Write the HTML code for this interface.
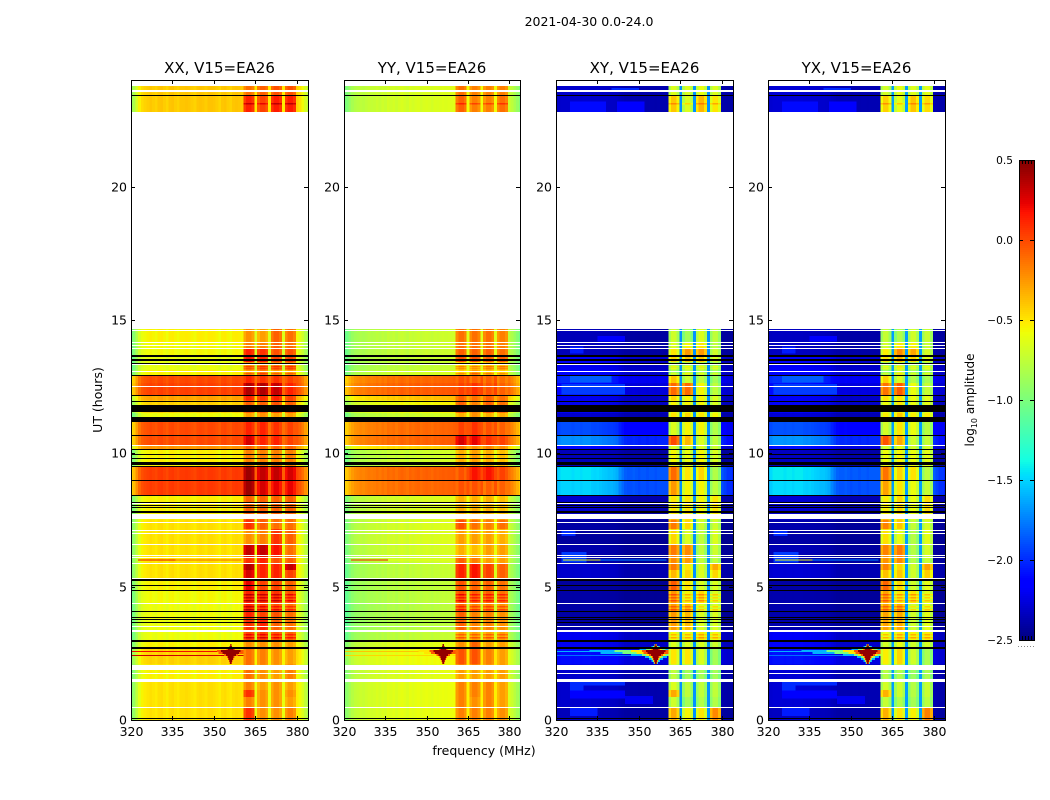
<!DOCTYPE html>
<html lang="en">
<head>
<meta charset="utf-8">
<title>2021-04-30 0.0-24.0</title>
<style>
html,body{margin:0;padding:0;background:#fff;}
svg{display:block;font-family:"DejaVu Sans","Liberation Sans",sans-serif;fill:#000;}
</style>
</head>
<body>
<svg id="figure" xmlns="http://www.w3.org/2000/svg" width="1050" height="800" viewBox="0 0 1050 800">
<rect x="0" y="0" width="1050" height="800" fill="#fff"/>
<text x="589" y="26" text-anchor="middle" font-size="12.5">2021-04-30 0.0-24.0</text>
<text x="484" y="755" text-anchor="middle" font-size="12.5">frequency (MHz)</text>
<text transform="translate(102,400) rotate(-90)" text-anchor="middle" font-size="12.5">UT (hours)</text>
<text transform="translate(974,400) rotate(-90)" text-anchor="middle" font-size="12">log<tspan font-size="8" dy="3">10</tspan><tspan dy="-3"> amplitude</tspan></text>
<g id="panels"></g>
<g id="colorbar"></g>
</svg>
<script>
// ---------- axis values ----------
const xTickValues = [320, 335, 350, 365, 380];
const yTickValues = [0, 5, 10, 15, 20];
const colorbarTicks = [0.5, 0.0, -0.5, -1.0, -1.5, -2.0, -2.5];
const panelTitles = ["XX, V15=EA26", "YY, V15=EA26", "XY, V15=EA26", "YX, V15=EA26"];

// ---------- time bands: top edge of each band, UT hours ----------
const bandTopUT = [23.78,23.44,14.66,14.18,13.95,13.69,13.43,13.13,12.94,12.64,12.17,11.98,11.81,11.52,11.36,11.19,10.65,10.28,10.14,9.69,9.49,8.98,8.42,7.74,7.52,7.16,6.60,6.13,5.87,5.62,5.29,4.88,4.35,3.86,3.34,2.94,2.66,2.08,1.88,1.43,1.13,0.86,0.47];

// ---------- log10 amplitude per band: [low band, block 1, block 2, block 3, block 4] ----------
const xxLevels = [
[-.42,-.15,-.1,-.05,-.05],[-.42,.1,0,.12,.12],[-.55,-.25,-.3,-.1,-.15],[-.58,-.2,-.2,-.1,-.15],[-.58,.1,.05,-.05,-.05],
[-.62,.15,.1,0,0],[-.62,-.25,-.2,-.2,-.2],[-.55,-.3,-.2,-.3,-.3],[-.02,.1,.05,.05,0],[.01,.35,.35,.3,.1],
[-.3,.1,.05,.1,0],[-.45,-.1,-.1,-.05,-.1],[-.45,-.1,-.1,-.05,-.1],[-.6,-.3,-.25,-.3,-.3],[-.6,-.3,-.25,-.3,-.3],
[-.02,.1,.1,.05,0],[-.02,.25,.1,.1,0],[-.25,-.1,-.1,-.1,-.1],[-.55,-.2,-.2,-.2,-.2],[-.55,-.2,-.2,-.2,-.2],
[.03,.4,.3,.3,.25],[.03,.4,.25,.2,.2],[-.55,-.1,-.1,-.1,-.1],[-.55,-.1,-.1,-.1,-.1],[-.5,.05,-.1,-.15,-.15],
[-.5,-.25,-.2,.05,-.1],[-.5,.3,.3,.15,-.15],[-.5,.05,.1,-.05,-.1],[-.5,.35,.1,.1,.3],[-.5,.25,.1,.1,0],
[-.55,.2,0,0,-.1],[-.58,.1,.05,.05,-.05],[-.6,.1,0,-.05,-.15],[-.6,.05,.1,-.1,-.15],[-.6,0,0,-.05,-.1],
[-.55,-.25,-.25,-.25,-.3],[-.45,-.15,-.2,-.25,-.3],[-.55,-.15,-.25,-.3,-.2],[-.55,-.15,-.25,-.3,-.2],[-.5,-.2,-.3,-.25,-.3],
[-.5,.05,-.25,-.25,-.25],[-.5,-.2,-.25,-.25,-.3],[-.5,.05,-.25,-.25,-.2]
];
const yyLevels = [
[-.68,-.15,-.2,-.2,-.2],[-.68,-.1,-.2,-.2,-.15],[-.74,-.15,-.15,-.15,-.2],[-.74,-.15,-.15,-.15,-.2],[-.74,-.1,-.1,-.1,-.15],
[-.74,-.05,-.05,-.1,-.1],[-.76,-.45,-.45,-.4,-.4],[-.7,-.45,-.3,-.4,-.45],[-.12,-.05,-.1,-.1,-.15],[-.08,0,.05,-.05,-.1],
[-.4,-.1,-.15,-.1,-.15],[-.58,-.1,-.2,-.1,-.15],[-.58,-.1,-.2,-.1,-.15],[-.72,-.35,-.25,-.35,-.35],[-.72,-.35,-.25,-.35,-.35],
[-.12,0,.05,-.05,-.1],[-.1,.25,.2,.05,0],[-.45,-.2,-.25,-.2,-.25],[-.72,-.35,-.3,-.35,-.4],[-.72,-.35,-.3,-.35,-.4],
[-.1,-.05,.15,.15,0],[-.12,-.05,-.05,-.1,-.1],[-.68,-.35,-.35,-.35,-.4],[-.68,-.35,-.35,-.35,-.4],[-.68,-.05,-.15,-.2,-.15],
[-.68,-.3,-.3,-.3,-.35],[-.7,-.35,-.4,-.3,-.3],[-.72,-.1,-.2,-.3,-.3],[-.76,.1,.15,0,-.1],[-.76,.1,.15,0,-.1],
[-.78,-.05,-.1,-.1,-.15],[-.78,-.05,-.1,-.1,-.15],[-.8,-.1,-.2,-.2,-.25],[-.8,-.1,-.2,-.2,-.25],[-.76,-.3,-.3,-.3,-.3],
[-.65,-.25,-.1,-.3,-.3],[-.6,-.05,-.05,-.2,-.3],[-.65,-.3,-.3,-.3,-.3],[-.65,-.3,-.3,-.3,-.3],[-.63,-.2,-.2,-.2,-.3],
[-.63,-.2,-.2,-.2,-.3],[-.63,-.2,-.25,-.2,-.3],[-.63,-.2,-.2,-.2,-.25]
];
const xyLevels = [
[-2.3,-.7,-.7,-.65,-.7],[-2.3,-.45,-.7,-.4,-.55],[-2.35,-.75,-.9,-.7,-.8],[-2.35,-.7,-.6,-.55,-.8],[-2.35,-.55,-.3,-.3,-.75],
[-2.15,-.5,-.45,-.45,-.7],[-2.2,-.85,-.85,-.85,-.9],[-2.15,-.9,-.8,-.85,-.9],[-2,-.45,-.75,-.8,-.9],[-2.1,-.15,-.15,-.6,-.8],
[-2.2,-.5,-.6,-.6,-.7],[-2.2,-.6,-.6,-.6,-.7],[-2.2,-.6,-.6,-.6,-.7],[-2.3,-.55,-.5,-.55,-.6],[-2.3,-.55,-.5,-.55,-.6],
[-1.9,-.7,-.6,-.6,-.85],[-1.7,-.05,-.4,-.7,-.8],[-2.1,-.7,-.7,-.7,-.75],[-2.35,-.6,-.65,-.6,-.7],[-2.35,-.6,-.65,-.6,-.7],
[-1.45,-.15,-.55,-.5,-.85],[-1.5,-.3,-.6,-.6,-.8],[-2.3,-.55,-.55,-.6,-.55],[-2.3,-.55,-.55,-.6,-.55],[-2.4,-.2,-.5,-.75,-.75],
[-2.42,-.5,-.7,-.8,-.7],[-2.38,-.2,-.25,-.8,-.75],[-2.38,-.25,-.3,-.8,-.8],[-2.3,-.2,-.55,-.7,-.35],[-2.3,-.4,-.5,-.7,-.5],
[-2.42,-.1,-.55,-.7,-.7],[-2.4,-.3,-.6,-.5,-.7],[-2.4,-.3,-.4,-.7,-.7],[-2.4,-.3,-.4,-.7,-.7],[-2.2,-.6,-.6,-.55,-.6],
[-2.2,-.7,-.7,-.7,-.75],[-2.1,-.55,-.55,-.7,-.9],[-2.3,-.8,-.9,-.9,-.9],[-2.3,-.8,-.9,-.9,-.9],[-2.3,-.7,-.8,-.8,-.8],
[-2.3,-.35,-.8,-.8,-.8],[-2.3,-.75,-.9,-.85,-.85],[-2.35,-.35,-.6,-.55,-.25]
];
const yxLevelDelta = [0.02, -0.03, 0.05, -0.04, 0.03];

// ---------- per-channel spectral shape (channels 1 MHz wide, starting at 319.6 MHz) ----------
const xxShape = [-.5,-.4,-.25,-.12,-.05,-.02,0,.02,0,-.02,.02,.03,0,-.03,.02,.03,0,-.02,.02,.02,.03,.02,0,-.02,.02,.03,.02,0,.03,.03,.02,0,-.03,.02,.03,0,-.02,.02,.03,.02,0,0,0,0,0,0,0,0,0,0,0,0,0,0,0,0,0,0,0,0,-.02,-.07,-.15,-.25,-.35];
const yyShape = [-.35,-.3,-.22,-.16,-.12,-.1,-.08,-.09,-.07,-.05,-.06,-.05,-.03,-.05,-.02,-.04,0,-.02,0,-.03,0,.02,0,-.02,.02,0,.02,.03,0,.02,.03,.02,0,.03,.02,.03,.04,.03,.04,.04,.05,0,0,0,0,0,0,0,0,0,0,0,0,0,0,0,0,0,0,0,-.02,-.08,-.15,-.22,-.3];
const crossShape = [.8,.95,1,1,1,1,.98,1,1,.98,1,1,1,.97,.96,.97,.95,.93,.92,.9,.9,.88,.85,.75,.68,.62,.6,.6,.62,.6,.58,.6,.6,.58,.6,.6,.58,.6,.6,.6,.6,0,0,0,0,0,0,0,0,0,0,0,0,0,0,0,0,0,0,0,.6,.55,.5,.5,.45];

// ---------- high-frequency blocks, start MHz ----------
const blockStartMHz = [360.6, 365.6, 370.6, 375.6];
const blockTaper = [-.06, .03, .03, -.04];
const crossBlockTaper = [-.1, .05, .05, -.1];

// ---------- horizontal streaks inside the high-frequency blocks ----------
const stripeUT = [23.14,13.27,13.2,13.01,4.725,4.61,4.5,4.275,4.16,3.225,3.11];
const stripeDelta = [.2,.25,.2,.2,.25,.2,.25,.2,.25,.2,.25];

// ---------- faint patches in the cross-hand low band ----------
const patchTopUT = [23.7,23.2,23.2,14.4,14.0,12.9,12.6,7.1,6.3,1.5,1.4,1.1,0.9,0.45];
const patchBottomUT = [23.55,22.8,22.8,14.2,13.75,12.65,12.2,6.9,5.9,1.3,1.1,0.8,0.6,0.15];
const patchStartMHz = [340,325,342,335,325,325,322,322,322,325,325,325,345,325];
const patchEndMHz = [350,338,352,345,330,340,345,327,331,345,330,345,355,335];
const patchValue = [-2.0,-2.1,-2.15,-2.15,-2.05,-1.85,-1.95,-2.0,-1.95,-2.0,-2.0,-2.15,-2.2,-2.05];

// ---------- narrow RFI lines ----------
const rfiUT = [2.59, 2.44, 6.02, 6.02];
const rfiStartMHz = [320, 320, 322.5, 336];
const rfiEndMHz = [360.6, 360.6, 336, 360];
const rfiXX = [.2, .3, .2, -.1];
const rfiYY = [-.4, -.45, .15, -.6];
const rfiCross = [-1.6, -1.8, -.6, -1.7];

// ---------- RFI burst contours at 356 MHz ----------
const spikeCentreMHz = 356.1;
const spikeContours = [-1.6, -1.0, -.5, -.05, .45];
const spikeUT = [2.85,2.775,2.70,2.625,2.55,2.475,2.40,2.325,2.25,2.175];
const spikeHalfWidths = [
[.5,.4,.3,.3,.2],[1.5,1,.6,.5,.4],[6,3.5,2.2,1.5,1],[24,15,9,5,3.5],[20,12,7,4.5,3],
[9,5,3.5,2.5,1.8],[4,2.5,1.8,1.4,1],[2.5,1.5,1.2,1,.8],[1.5,1,.8,.6,.5],[.8,.6,.5,.4,.3]
];

// ---------- flagged integrations: [top UT, bottom UT] ----------
const blackLines = [[23.44,23.40],[13.69,13.61],[13.54,13.45],[13.39,13.35],[12.94,12.90],[12.17,12.13],[11.98,11.94],[11.81,11.53],[11.36,11.19],[10.69,10.65],[10.16,10.13],[9.99,9.96],[9.84,9.81],[9.69,9.58],[9.53,9.49],[9.00,8.96],[8.44,8.40],[8.19,8.16],[8.08,8.04],[7.99,7.95],[7.84,7.78],[7.74,7.71],[5.29,5.23],[5.08,5.04],[4.89,4.86],[4.07,4.03],[3.88,3.84],[3.79,3.75],[3.69,3.66],[3.39,3.36],[3.00,2.94],[2.72,2.66],[0.075,0.04]];
const whiteGaps = [[24,23.78],[23.625,23.55],[22.8,14.66],[14.63,14.59],[14.16,14.12],[14.06,14.03],[13.96,13.92],[13.35,13.31],[13.09,13.05],[12.53,12.49],[10.31,10.28],[8.14,8.10],[7.72,7.52],[7.43,7.39],[7.14,7.11],[7.01,6.98],[6.60,6.56],[6.19,6.15],[6.11,6.08],[5.89,5.85],[5.31,5.29],[4.39,4.35],[3.54,3.51],[3.36,3.30],[2.07,1.87],[1.76,1.72],[1.54,1.43],[0.47,0.43]];

// ---------- colormap anchors (position, component) ----------
const jetRed = [[0,0],[.35,0],[.66,1],[.89,1],[1,.5]];
const jetGreen = [[0,0],[.125,0],[.375,1],[.64,1],[.91,0],[1,0]];
const jetBlue = [[0,.5],[.11,1],[.34,1],[.65,0],[1,0]];

// ---------- drawing ----------
const SVGNS = "http://www.w3.org/2000/svg";
const plotTop = 80, plotBottom = 720, utMax = 24, mhzMin = 320, mhzMax = 384;
const vMin = -2.5, vMax = 0.5;
const panelLayout = [{left:131,width:177},{left:344,width:176},{left:556,width:177},{left:768,width:177}];
const chanCount = 65, chanStart = 319.6;

function yScale(ut){ return plotBottom - ut * (plotBottom - plotTop) / utMax; }
function xScale(mhz, p){ return p.left + (mhz - mhzMin) * p.width / (mhzMax - mhzMin); }
function clampMHz(m){ return Math.max(mhzMin, Math.min(mhzMax, m)); }
function channel(a, t){
  for (let i = 1; i < a.length; i++) {
    if (t <= a[i][0]) return a[i-1][1] + (a[i][1]-a[i-1][1]) * (t-a[i-1][0]) / (a[i][0]-a[i-1][0]);
  }
  return a[a.length-1][1];
}
function jet(v){
  const t = Math.max(0, Math.min(1, (v - vMin) / (vMax - vMin)));
  const c = [jetRed, jetGreen, jetBlue].map(a => Math.round(channel(a, t) * 255));
  return "rgb(" + c[0] + "," + c[1] + "," + c[2] + ")";
}
function rect(parent, x, y, w, h, fill){
  const r = document.createElementNS(SVGNS, "rect");
  r.setAttribute("x", x.toFixed(2));
  r.setAttribute("y", y.toFixed(2));
  r.setAttribute("width", w.toFixed(2));
  r.setAttribute("height", h.toFixed(2));
  r.setAttribute("fill", fill);
  parent.appendChild(r);
  return r;
}
function label(parent, x, y, str, size, anchor){
  const t = document.createElementNS(SVGNS, "text");
  t.setAttribute("x", x);
  t.setAttribute("y", y);
  t.setAttribute("font-size", size);
  t.setAttribute("text-anchor", anchor);
  t.textContent = str;
  parent.appendChild(t);
  return t;
}
function blockIndex(mhz, blocks){
  for (let b = 0; b < blocks.length; b++) {
    if (mhz >= blocks[b] - 0.01 && mhz < blocks[b] + 3.99) return b;
  }
  return -1;
}
function cellValue(kind, row, ch){
  const mhz = chanStart + ch;
  const block = blockIndex(mhz, blockStartMHz);
  const isCross = kind === "xy" || kind === "yx";
  const src = kind === "xx" ? xxLevels : kind === "yy" ? yyLevels : xyLevels;
  const delta = kind === "yx" ? yxLevelDelta : [0,0,0,0,0];
  const levels = src[row];
  if (block >= 0) {
    const pos = Math.floor(mhz - blockStartMHz[block] + 0.01);
    return levels[block + 1] + delta[block + 1] + (isCross ? crossBlockTaper[pos] : blockTaper[pos]);
  }
  const low = levels[0] + delta[0];
  const inGap = mhz > 360.5 && mhz < 376;
  if (isCross) {
    if (inGap) return -1.7 + delta[0] * 2;
    return vMin + (low - vMin) * crossShape[ch];
  }
  if (kind === "xx") return inGap ? low - .1 : low + xxShape[ch];
  return inGap ? low + .1 : low + yyShape[ch];
}

const panelKinds = ["xx", "yy", "xy", "yx"];
const spikeFirstContour = {xx:3, yy:2, xy:0, yx:0};
const panelsGroup = document.getElementById("panels");

panelKinds.forEach(function(kind, pi){
  const p = panelLayout[pi];
  const g = document.createElementNS(SVGNS, "g");
  
  
  panelsGroup.appendChild(g);

  const marks = document.createElementNS(SVGNS, "g");
  marks.setAttribute("shape-rendering", "crispEdges");
  
  
  g.appendChild(marks);

  rect(marks, p.left, plotTop, p.width, plotBottom - plotTop, "#fff");

  bandTopUT.forEach(function(top, row){
    const bottom = row + 1 < bandTopUT.length ? bandTopUT[row + 1] : 0;
    for (let ch = 0; ch < chanCount; ch++) {
      const a = clampMHz(chanStart + ch), b = clampMHz(chanStart + ch + 1);
      if (b <= a) continue;
      const x0 = xScale(a, p), x1 = xScale(b, p);
      const cell = rect(marks, x0, yScale(top), x1 - x0, yScale(bottom) - yScale(top), jet(cellValue(kind, row, ch)));
      
      
    }
  });

  if (kind === "xy" || kind === "yx") {
    patchValue.forEach(function(value, i){
      const x0 = xScale(patchStartMHz[i], p), x1 = xScale(patchEndMHz[i], p);
      const y0 = yScale(patchTopUT[i]), y1 = yScale(patchBottomUT[i]);
      const s = rect(marks, x0, y0, x1 - x0, y1 - y0, jet(value));
      
      
    });
  }

  stripeUT.forEach(function(ut, si){
    let row = 0;
    while (row + 1 < bandTopUT.length && bandTopUT[row + 1] >= ut) row++;
    for (let ch = 0; ch < chanCount; ch++) {
      const mhz = chanStart + ch;
      if (blockIndex(mhz, blockStartMHz) < 0) continue;
      const x0 = xScale(mhz, p), x1 = xScale(mhz + 1, p);
      const s = rect(marks, x0, yScale(ut), x1 - x0, 1.4, jet(cellValue(kind, row, ch) + stripeDelta[si]));
      
      
    }
  });

  rfiUT.forEach(function(ut, i){
    const value = kind === "xx" ? rfiXX[i] : kind === "yy" ? rfiYY[i] : rfiCross[i];
    const x0 = xScale(rfiStartMHz[i], p), x1 = xScale(rfiEndMHz[i], p);
    const l = rect(marks, x0, yScale(ut), x1 - x0, 1.1, jet(value));
    
    
  });

  spikeContours.forEach(function(value, c){
    if (c < spikeFirstContour[kind]) return;
    spikeUT.forEach(function(ut, r){
      const hw = spikeHalfWidths[r][c];
      const a = clampMHz(spikeCentreMHz - hw), b = Math.min(360.6, spikeCentreMHz + hw);
      const x0 = xScale(a, p), x1 = xScale(b, p);
      const y0 = yScale(ut);
      const next = r + 1 < spikeUT.length ? spikeUT[r + 1] : ut - 0.075;
      const s = rect(marks, x0, y0, x1 - x0, yScale(next) - y0, jet(value));
      
      
    });
  });

  blackLines.forEach(function(b){
    const y0 = Math.round(yScale(b[0]));
    const l = rect(marks, p.left, y0, p.width, Math.max(1, Math.round(yScale(b[1]) - yScale(b[0]))), "#000");
    
    
  });
  whiteGaps.forEach(function(b){
    const y0 = Math.round(yScale(b[0]));
    const l = rect(marks, p.left, y0, p.width, Math.max(1, Math.round(yScale(b[1]) - yScale(b[0]))), "#fff");
    
    
  });

  // ticks
  const ticks = document.createElementNS(SVGNS, "g");
  ticks.setAttribute("shape-rendering", "crispEdges");
  
  
  g.appendChild(ticks);
  xTickValues.forEach(function(v){
    const x = Math.round(xScale(v, p));
    const bt = rect(ticks, x, plotBottom - 4, 1, 4, "#000");
    
    
    const tt = rect(ticks, x, plotTop, 1, 4, "#000");
    
    
    const lab = label(g, x + 0.5, 736, String(v), 12.5, "middle");
    
    
  });
  yTickValues.forEach(function(v){
    const y = Math.round(yScale(v));
    const lt = rect(ticks, p.left, y, 4, 1, "#000");
    
    
    const rt = rect(ticks, p.left + p.width - 4, y, 4, 1, "#000");
    
    
    const lab = label(g, p.left - 4, y + 4.5, String(v), 12.5, "end");
    
    
  });

  // frame
  const frame = document.createElementNS(SVGNS, "rect");
  frame.setAttribute("x", p.left + 0.5);
  frame.setAttribute("y", plotTop + 0.5);
  frame.setAttribute("width", p.width);
  frame.setAttribute("height", plotBottom - plotTop);
  frame.setAttribute("fill", "none");
  frame.setAttribute("stroke", "#000");
  frame.setAttribute("stroke-width", "1");
  
  
  g.appendChild(frame);

  const title = label(g, p.left + p.width / 2, 73, panelTitles[pi], 15, "middle");
  
  
});

// ---------- colorbar ----------
const cb = document.getElementById("colorbar");
const cbLeft = 1019, cbWidth = 15, cbTop = 160, cbBottom = 640;
function cbY(v){ return cbBottom - (v - vMin) * (cbBottom - cbTop) / (vMax - vMin); }
const cbLayer = document.createElementNS(SVGNS, "g");
cbLayer.setAttribute("shape-rendering", "crispEdges");


cb.appendChild(cbLayer);
for (let y = cbTop; y < cbBottom; y += 2) {
  const v = vMax - (y + 1 - cbTop) * (vMax - vMin) / (cbBottom - cbTop);
  const s = rect(cbLayer, cbLeft, y, cbWidth, 2, jet(v));
  
  
}
colorbarTicks.forEach(function(v){
  const y = Math.round(cbY(v));
  const a = rect(cbLayer, cbLeft, y, 4, 1, "#000");
  
  
  const b = rect(cbLayer, cbLeft + cbWidth - 4, y, 4, 1, "#000");
  
  
  const str = (v < 0 ? "\u2212" : "") + Math.abs(v).toFixed(1);
  const t = label(cb, 1013, y + 4, str, 10.6, "end");
  
  
});
[1022, 1025, 1028, 1031].forEach(function(x){
  const a = rect(cbLayer, x, cbTop, 1, 4, "#000");
  
  
  const b = rect(cbLayer, x, cbBottom - 4, 1, 4, "#000");
  
  
});
[1018, 1021, 1024, 1027, 1030, 1033].forEach(function(x){
  const d = rect(cbLayer, x, 646, 1, 1, "#888");
  
  
});
const cbFrame = document.createElementNS(SVGNS, "rect");
cbFrame.setAttribute("x", cbLeft + 0.5);
cbFrame.setAttribute("y", cbTop + 0.5);
cbFrame.setAttribute("width", cbWidth);
cbFrame.setAttribute("height", cbBottom - cbTop);
cbFrame.setAttribute("fill", "none");
cbFrame.setAttribute("stroke", "#000");


cb.appendChild(cbFrame);
</script>
</body>
</html>
